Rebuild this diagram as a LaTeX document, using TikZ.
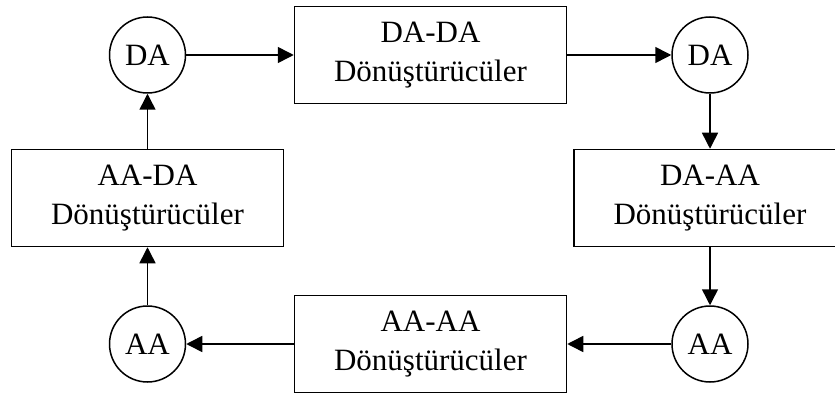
\documentclass[tikz,border=0pt]{standalone}
\usepackage{fontspec}
\setmainfont{Liberation Serif}
\usetikzlibrary{arrows.meta}
\tikzset{conv/.style={rectangle,draw,line width=1.5pt,minimum width=272pt,minimum height=97pt,align=center,inner sep=0pt},
  bus/.style={circle,draw,line width=1.5pt,minimum size=76pt,inner sep=0pt},
  flow/.style={line width=1.5pt,-{Triangle[length=16pt,width=16pt]}}}

\begin{document}
\begin{tikzpicture}[x=1pt,y=1pt,font=\fontsize{31}{39}\selectfont]
      \useasboundingbox (0,0) rectangle (835,394);
      \node[bus] (DA1) at (147.5,339) {DA};
      \node[conv] (DADA) at (430.5,339) {DA-DA\\Dönüştürücüler};
      \node[bus] (DA2) at (710,339) {DA};
      \node[conv] (DAAA) at (710,196) {DA-AA\\Dönüştürücüler};
      \node[bus] (AA2) at (710,50) {AA};
      \node[conv] (AAAA) at (430.5,50) {AA-AA\\Dönüştürücüler};
      \node[bus] (AA1) at (147.5,50) {AA};
      \node[conv] (AADA) at (147.5,196) {AA-DA\\Dönüştürücüler};

      \draw[flow] (DA1) -- (DADA);
      \draw[flow] (DADA) -- (DA2);
      \draw[flow] (DA2) -- (DAAA);
      \draw[flow] (DAAA) -- (AA2);
      \draw[flow] (AA2) -- (AAAA);
      \draw[flow] (AAAA) -- (AA1);
      \draw[flow] (AA1) -- (AADA);
      \draw[flow] (AADA) -- (DA1);
    \end{tikzpicture}
\end{document}
